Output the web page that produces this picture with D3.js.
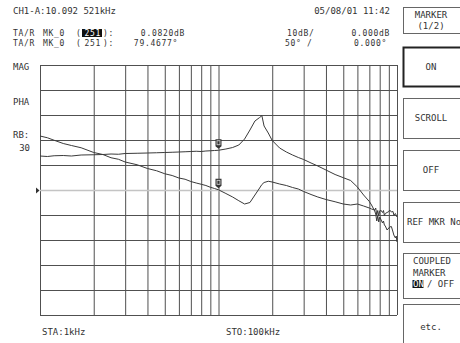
<!DOCTYPE html>
<html>
<head>
<meta charset="utf-8">
<script src="https://cdn.jsdelivr.net/npm/d3@7"></script>
<style>
  html, body { margin: 0; padding: 0; background: #fff; }
  svg text { font-family: "DejaVu Sans Mono", "Liberation Mono", monospace; font-size: 9px; fill: #333; }
  svg text.small { font-size: 8px; letter-spacing: 0.7px; }
</style>
</head>
<body>
<main></main>
<script>
// sweep frequencies (kHz)
const freqKHz = [1, 1.1, 1.2, 1.35, 1.5, 1.7, 2, 2.25, 2.5, 2.75, 3, 3.5, 4, 4.5, 5, 5.5, 6, 6.5, 7, 7.5, 8, 8.5, 9, 9.5,
  10, 11, 12, 13, 14, 15, 16, 17, 17.5, 18, 19, 20, 22, 24, 26, 28, 30, 33, 36, 40, 45, 50, 55, 60, 65, 70, 72, 75, 76, 77,
  78, 79, 80, 81, 83, 84, 85, 86, 88, 90, 91, 93, 95, 96, 98, 99, 100];
// magnitude trace (dB, 10 dB/div)
const magDb = [21.6, 20.9, 19.9, 18.6, 17.8, 16.9, 15.0, 14.2, 12.9, 12.3, 11.2, 10.1, 8.6, 7.7, 6.5, 5.8, 4.8, 4.3, 3.4, 2.8, 2.3, 1.8, 1.1, 0.6,
  0.08, -1.4, -2.8, -4.3, -5.6, -5.0, -2.0, 0.8, 2.2, 3.0, 3.5, 3.2, 2.4, 1.8, 1.0, 0.4, -0.6, -1.8, -2.8, -3.8, -4.7, -5.6, -6.0, -5.6, -6.4, -7.2, -7.6, -8.0, -7.2, -10.0,
  -8.2, -10.4, -8.4, -8.0, -9.0, -8.2, -10.2, -9.4, -9.0, -8.6, -8.0, -8.8, -8.6, -10.0, -9.4, -10.2, -10.8];
// phase trace (deg, 50 deg/div)
const phaseDeg = [68, 67, 68.5, 69, 68, 70, 70.5, 71, 72, 71.5, 73, 73.5, 74, 74.5, 75, 75.5, 76, 76.5, 77, 77.5, 77, 78, 78.5, 79,
  79.47, 82, 85, 90, 102, 120, 138, 145, 148.6, 128, 114, 99, 84, 76, 70, 65, 61, 54, 48, 40, 31, 24.6, 19, 6, -10, -23, -30, -42, -48, -62,
  -52, -64, -54, -58, -66, -62, -70, -72, -80, -76, -74, -73, -84, -90, -96, -92, -104];
const gridFreqs = [1, 2, 3, 4, 5, 6, 7, 8, 9, 10, 20, 30, 40, 50, 60, 70, 80, 90, 100];
const gridDb = [-50, -40, -30, -20, -10, 0, 10, 20, 30, 40, 50];
const markerIndex = 24; // MK_0 at 10 kHz
const markerPoint = "251";
const softKeys = [["MARKER", "(1/2)"], ["ON"], ["SCROLL"], ["OFF"], ["REF MKR No"], ["COUPLED", "MARKER", "ON / OFF"], ["etc."]];

const svg = d3.select("main").append("svg").attr("width", 460).attr("height", 343);

const x = d3.scaleLog().domain([1, 100]).range([40, 397]);
const yMag = d3.scaleLinear().domain([-50, 50]).range([315, 65]);
const yPha = d3.scaleLinear().domain([-250, 250]).range([315, 65]);

// grid
svg.append("g")
  .attr("transform", "translate(0,315)")
  .call(d3.axisBottom(x).tickValues(gridFreqs).tickSize(-250).tickFormat(""))
  .call(g => g.select(".domain").remove())
  .call(g => g.selectAll(".tick line").attr("stroke", "#505050"));

svg.append("g")
  .attr("transform", "translate(40,0)")
  .call(d3.axisLeft(yMag).tickValues(gridDb).tickSize(-357).tickFormat(""))
  .call(g => g.select(".domain").remove())
  .call(g => g.selectAll(".tick line")
    .attr("stroke", d => d === 0 ? "#c4c4c4" : "#505050")
    .attr("stroke-width", d => d === 0 ? 1.5 : 1));

// ref arrow
svg.append("path").attr("d", "M36,187.5L39.5,190.5L36,193.5Z").attr("fill", "#333");

// traces
const idx = d3.range(freqKHz.length);
const magLine = d3.line().x(i => x(freqKHz[i])).y(i => yMag(magDb[i]));
const phaLine = d3.line().x(i => x(freqKHz[i])).y(i => yPha(phaseDeg[i]));
svg.append("path").datum(idx).attr("d", phaLine)
  .attr("fill", "none").attr("stroke", "#3a3a3a").attr("stroke-width", 1).attr("stroke-linejoin", "round");
svg.append("path").datum(idx).attr("d", magLine)
  .attr("fill", "none").attr("stroke", "#3a3a3a").attr("stroke-width", 1).attr("stroke-linejoin", "round");

// markers
[yMag(magDb[markerIndex]), yPha(phaseDeg[markerIndex])].forEach(py => {
  const mx = x(freqKHz[markerIndex]);
  const g = svg.append("g").attr("transform", `translate(${mx},${py})`);
  g.append("path").attr("d", "M-3,-11h6v7l-3,2.5l-3,-2.5Z").attr("fill", "#333");
  g.append("rect").attr("x", -1.5).attr("y", -9.5).attr("width", 3).attr("height", 4).attr("fill", "none").attr("stroke", "#ddd").attr("stroke-width", 0.8);
});

// header text
const txt = (s, tx, ty, anchor, cls) => svg.append("text").attr("class", cls || null)
  .attr("x", tx).attr("y", ty).attr("text-anchor", anchor || "start").text(s);
txt("CH1-A:10.092 521kHz", 13, 14);
txt("05/08/01 11:42", 390, 14, "end");
txt("TA/R", 13, 36, "start", "small"); txt("MK_0", 43, 36, "start", "small"); txt("(", 76, 36, "start", "small");
svg.append("rect").attr("x", 82).attr("y", 29).attr("width", 20).attr("height", 8).attr("fill", "#111");
svg.append("text").attr("class", "small").attr("x", 101).attr("y", 36).attr("text-anchor", "end").style("fill", "#fff").text(markerPoint);
txt("):", 103, 36, "start", "small");
txt("0.0820dB", 185, 36, "end", "small");
txt("TA/R", 13, 45.5, "start", "small"); txt("MK_0", 43, 45.5, "start", "small"); txt("(", 76, 45.5, "start", "small");
txt(markerPoint, 101, 45.5, "end", "small");
txt("):", 103, 45.5, "start", "small");
txt("79.4677°", 178, 45.5, "end", "small");
txt("10dB/", 287, 36, "start", "small"); txt("0.000dB", 390, 36, "end", "small");
txt("50° /", 285, 45.5, "start", "small"); txt("0.000°", 387, 45.5, "end", "small");

txt("MAG", 13, 70);
txt("PHA", 13, 105);
txt("RB:", 13, 138);
txt("30", 30, 151, "end");
txt("STA:1kHz", 42, 335);
txt("STO:100kHz", 226, 335);

// soft keys
const keyBoxes = [[7, 33], [47, 86], [98, 138], [150, 190], [202, 242], [253, 298], [304, 350]];
softKeys.forEach((lines, i) => {
  const [t, b] = keyBoxes[i];
  const g = svg.append("g");
  g.append("rect").attr("x", 403.5).attr("y", t + 0.5).attr("width", 70).attr("height", b - t)
    .attr("fill", "#fff").attr("stroke", i === 1 ? "#222" : "#666").attr("stroke-width", i === 1 ? 2 : 1);
  const mid = (t + b) / 2;
  if (i === 5) {
    g.append("text").attr("x", 413).attr("y", 264).text(lines[0]);
    g.append("text").attr("x", 413).attr("y", 275.5).text(lines[1]);
    g.append("rect").attr("x", 412.5).attr("y", 280).attr("width", 11).attr("height", 8).attr("fill", "#111");
    g.append("text").attr("x", 413).attr("y", 287).style("fill", "#fff").text(lines[2].slice(0, 2));
    g.append("text").attr("x", 427).attr("y", 287).text(lines[2].slice(3));
  } else if (i === 4) {
    g.append("text").attr("x", 407).attr("y", mid + 3).text(lines[0]);
  } else {
    lines.forEach((s, j) => g.append("text").attr("x", 431).attr("y", mid + 3 + (j - (lines.length - 1) / 2) * 11)
      .attr("text-anchor", "middle").text(s));
  }
});
</script>
</body>
</html>
